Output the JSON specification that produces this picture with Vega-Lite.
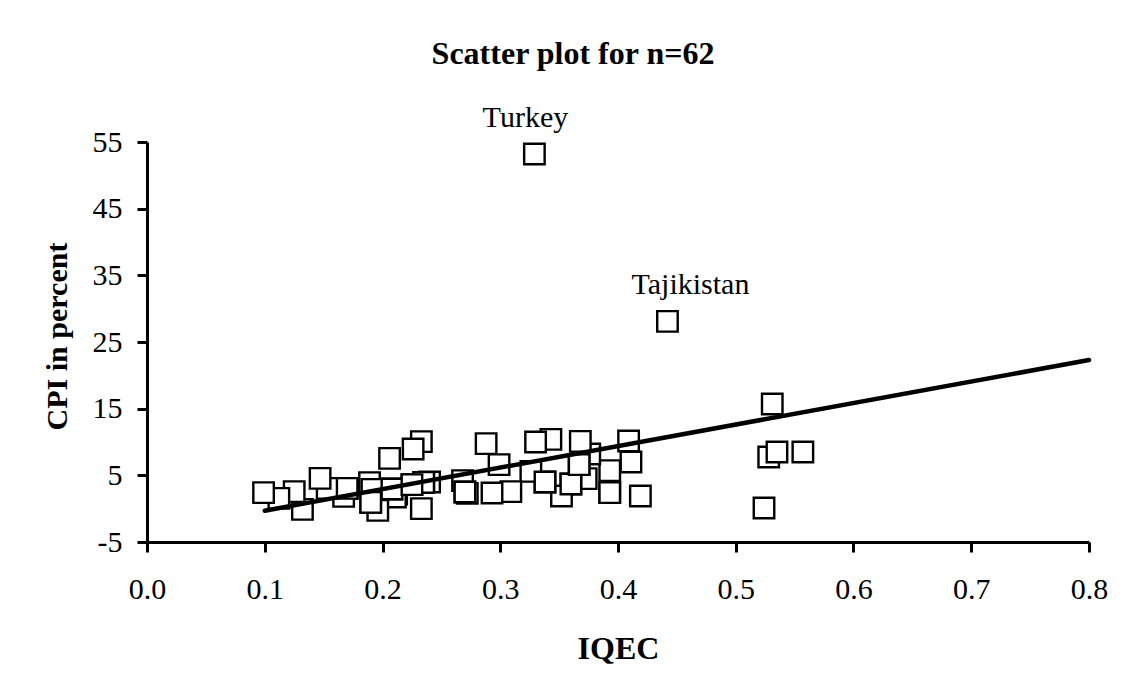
{
  "$schema": "https://vega.github.io/schema/vega-lite/v6.json",
  "width": 942,
  "height": 400,
  "autosize": "none",
  "padding": {"left": 147, "top": 142, "right": 42, "bottom": 151},
  "background": "white",
  "title": {
    "text": "Scatter plot for n=62",
    "font": "Liberation Serif",
    "fontSize": 32,
    "fontWeight": "bold",
    "color": "black",
    "anchor": "middle",
    "frame": "group",
    "baseline": "alphabetic",
    "offset": 7,
    "dx": -45
  },
  "config": {
    "view": {"stroke": null},
    "axis": {
      "grid": false,
      "domainColor": "black",
      "domainWidth": 3,
      "tickColor": "black",
      "tickWidth": 3,
      "tickSize": 10,
      "labelFont": "Liberation Serif",
      "labelFontSize": 30,
      "labelColor": "black",
      "titleFont": "Liberation Serif",
      "titleFontWeight": "bold",
      "titleColor": "black"
    }
  },
  "data": {
    "values": [
      {"iqec": 0.329, "cpi": 53.2, "country": "Turkey"},
      {"iqec": 0.442, "cpi": 28.1, "country": "Tajikistan"},
      {"iqec": 0.531, "cpi": 15.7, "country": ""},
      {"iqec": 0.528, "cpi": 7.75, "country": ""},
      {"iqec": 0.535, "cpi": 8.5, "country": ""},
      {"iqec": 0.557, "cpi": 8.5, "country": ""},
      {"iqec": 0.524, "cpi": 0.1, "country": ""},
      {"iqec": 0.419, "cpi": 1.9, "country": ""},
      {"iqec": 0.411, "cpi": 7.0, "country": ""},
      {"iqec": 0.409, "cpi": 10.15, "country": ""},
      {"iqec": 0.393, "cpi": 5.7, "country": ""},
      {"iqec": 0.393, "cpi": 2.4, "country": ""},
      {"iqec": 0.376, "cpi": 8.2, "country": ""},
      {"iqec": 0.373, "cpi": 4.5, "country": ""},
      {"iqec": 0.368, "cpi": 10.1, "country": ""},
      {"iqec": 0.367, "cpi": 6.6, "country": ""},
      {"iqec": 0.360, "cpi": 3.7, "country": ""},
      {"iqec": 0.352, "cpi": 1.9, "country": ""},
      {"iqec": 0.343, "cpi": 10.4, "country": ""},
      {"iqec": 0.338, "cpi": 4.0, "country": ""},
      {"iqec": 0.330, "cpi": 10.0, "country": ""},
      {"iqec": 0.326, "cpi": 5.6, "country": ""},
      {"iqec": 0.309, "cpi": 2.55, "country": ""},
      {"iqec": 0.299, "cpi": 6.6, "country": ""},
      {"iqec": 0.293, "cpi": 2.35, "country": ""},
      {"iqec": 0.288, "cpi": 9.75, "country": ""},
      {"iqec": 0.268, "cpi": 4.2, "country": ""},
      {"iqec": 0.270, "cpi": 2.5, "country": ""},
      {"iqec": 0.272, "cpi": 2.3, "country": ""},
      {"iqec": 0.240, "cpi": 4.0, "country": ""},
      {"iqec": 0.235, "cpi": 3.95, "country": ""},
      {"iqec": 0.233, "cpi": 10.05, "country": ""},
      {"iqec": 0.233, "cpi": 0.0, "country": ""},
      {"iqec": 0.226, "cpi": 8.95, "country": ""},
      {"iqec": 0.225, "cpi": 3.6, "country": ""},
      {"iqec": 0.212, "cpi": 2.2, "country": ""},
      {"iqec": 0.211, "cpi": 1.75, "country": ""},
      {"iqec": 0.208, "cpi": 2.95, "country": ""},
      {"iqec": 0.206, "cpi": 7.55, "country": ""},
      {"iqec": 0.196, "cpi": -0.25, "country": ""},
      {"iqec": 0.191, "cpi": 2.9, "country": ""},
      {"iqec": 0.190, "cpi": 0.95, "country": ""},
      {"iqec": 0.189, "cpi": 3.9, "country": ""},
      {"iqec": 0.170, "cpi": 3.05, "country": ""},
      {"iqec": 0.167, "cpi": 1.85, "country": ""},
      {"iqec": 0.153, "cpi": 3.05, "country": ""},
      {"iqec": 0.147, "cpi": 4.55, "country": ""},
      {"iqec": 0.132, "cpi": -0.1, "country": ""},
      {"iqec": 0.125, "cpi": 2.55, "country": ""},
      {"iqec": 0.112, "cpi": 1.55, "country": ""},
      {"iqec": 0.099, "cpi": 2.4, "country": ""},
      {"iqec": 0.191, "cpi": 2.9, "country": ""},
      {"iqec": 0.190, "cpi": 0.95, "country": ""},
      {"iqec": 0.170, "cpi": 3.05, "country": ""},
      {"iqec": 0.208, "cpi": 2.95, "country": ""},
      {"iqec": 0.235, "cpi": 3.95, "country": ""},
      {"iqec": 0.270, "cpi": 2.5, "country": ""},
      {"iqec": 0.338, "cpi": 4.0, "country": ""},
      {"iqec": 0.360, "cpi": 3.7, "country": ""},
      {"iqec": 0.393, "cpi": 2.4, "country": ""},
      {"iqec": 0.367, "cpi": 6.6, "country": ""},
      {"iqec": 0.225, "cpi": 3.6, "country": ""}
    ]
  },
  "encoding": {
    "x": {
      "field": "iqec",
      "type": "quantitative",
      "scale": {"domain": [0, 0.8], "nice": false, "zero": false},
      "axis": {
        "values": [0, 0.1, 0.2, 0.3, 0.4, 0.5, 0.6, 0.7, 0.8],
        "format": ".1f",
        "title": "IQEC",
        "titleFontSize": 32,
        "titleBaseline": "alphabetic",
        "titleX": 471,
        "titleY": 116,
        "labelBaseline": "alphabetic",
        "labelPadding": 46,
        "labelFlush": false
      }
    },
    "y": {
      "field": "cpi",
      "type": "quantitative",
      "scale": {"domain": [-5, 55], "nice": false, "zero": false},
      "axis": {
        "values": [-5, 5, 15, 25, 35, 45, 55],
        "labelExpr": "toString(datum.value)",
        "title": "CPI in percent",
        "titleFontSize": 30,
        "titleAngle": -90,
        "titleBaseline": "alphabetic",
        "titleAlign": "center",
        "titleX": -81,
        "titleY": 194,
        "labelPadding": 15,
        "labelFlush": false
      }
    }
  },
  "layer": [
    {
      "mark": {"type": "point", "shape": "square", "size": 420, "filled": false, "fill": "white", "fillOpacity": 1, "stroke": "black", "strokeWidth": 2.4, "opacity": 1}
    },
    {
      "data": {"values": [{"iqec": 0.1, "cpi": -0.3}, {"iqec": 0.8, "cpi": 22.3}]},
      "mark": {"type": "line", "color": "black", "strokeWidth": 4.5, "strokeCap": "round"}
    },
    {
      "transform": [{"filter": "datum.country == 'Turkey'"}],
      "mark": {"type": "text", "font": "Liberation Serif", "fontSize": 30, "color": "black", "align": "center", "baseline": "alphabetic", "dx": -9, "dy": -27},
      "encoding": {"text": {"field": "country"}}
    },
    {
      "transform": [{"filter": "datum.country == 'Tajikistan'"}],
      "mark": {"type": "text", "font": "Liberation Serif", "fontSize": 30, "color": "black", "align": "center", "baseline": "alphabetic", "dx": 23, "dy": -27},
      "encoding": {"text": {"field": "country"}}
    }
  ]
}
